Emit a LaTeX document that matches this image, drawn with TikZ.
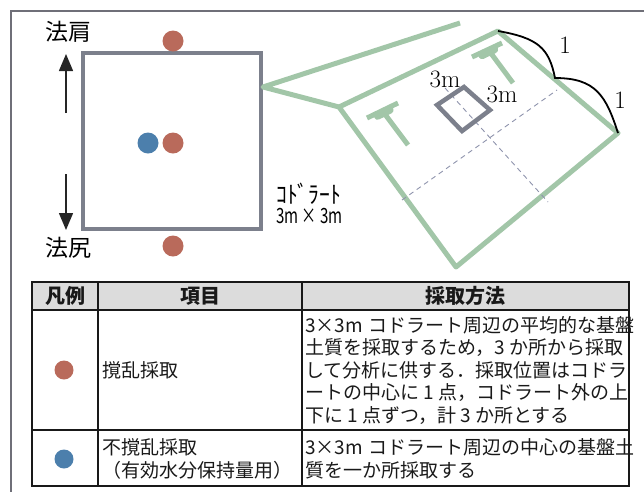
\documentclass[tikz,border=0pt]{standalone}
\usepackage{fontspec}
\newfontfamily\jp{Noto Sans CJK JP}
\newfontfamily\jpnarrow{Noto Sans CJK JP}[FakeStretch=0.72]
\newfontfamily\jpkana{Noto Sans CJK JP}[FakeStretch=0.9]
\usetikzlibrary{positioning,arrows.meta}

\definecolor{slopegreen}{HTML}{A2C6A8}
\definecolor{quadgray}{HTML}{7C808C}
\definecolor{framegray}{HTML}{6F6F78}
\definecolor{guidegray}{HTML}{8E93AC}
\definecolor{sampred}{HTML}{B96A5B}
\definecolor{sampblue}{HTML}{4C7FAC}
\definecolor{headgray}{HTML}{DCDCDC}

\begin{document}
\begin{tikzpicture}[x=1pt,y=-1pt,
	slope/.style={draw=slopegreen,line width=5pt,line join=round},
	quadrat/.style={draw=quadgray,line width=4.5pt},
	guide/.style={draw=guidegray,line width=0.9pt,dash pattern=on 5pt off 4pt},
	sample/.style={shape=circle,inner sep=0pt,minimum size=21pt},
	bigarrow/.style={draw=black!85,line width=1.5pt,-{Triangle[length=17pt,width=14pt]}},
	cell/.style={draw=black!90,line width=1.5pt}]
	\useasboundingbox (0,0) rectangle (644,491);

	% frame
	\draw[framegray,line width=2pt] (11,496) -- (11,11) -- (650,11);

	% Quadrat seen from above
	\draw[quadrat] (83,53) rectangle (261,229);
	\node [sample,fill=sampred] (upper) at (173,41) {};
	\node [sample,fill=sampblue] (centreU) at (148,143) {};
	\node [sample,fill=sampred] (centreD) at (173,143) {};
	\node [sample,fill=sampred] (lower) at (173,246) {};

	\node [font=\jp\fontsize{23}{26}\selectfont] (shoulder) at (68,32) {法肩};
	\node [font=\jp\fontsize{23}{26}\selectfont] (toe) at (68,248) {法尻};
	\coordinate (up0) at (66,113);
	\coordinate (up1) at (66,54);
	\coordinate (dn0) at (66,174);
	\coordinate (dn1) at (66,230);
	\draw[bigarrow] (up0) -- (up1);
	\draw[bigarrow] (dn0) -- (dn1);

	\node [font=\jpkana\fontsize{24}{24}\selectfont, anchor=base west, inner sep=0pt] (qname) at (276,203) {ｺﾄﾞﾗｰﾄ};
	\node [font=\jpnarrow\fontsize{21}{21}\selectfont, anchor=base west, inner sep=0pt] (qsize) at (276,223) {3m × 3m};

	% Slope
	\coordinate (hinge) at (263,87);
	\coordinate (far) at (460,23);
	\coordinate (shl) at (339,107);
	\coordinate (crest) at (498,31);
	\coordinate (rt) at (618,133);
	\coordinate (btm) at (456,267);
	\draw[slope] (far) -- (hinge) -- (shl) -- (btm) -- (rt) -- (crest) -- (shl);

	% trees on the slope
	\draw[slope] (367,118) -- (398,103);
	\draw[slopegreen,line width=7pt,line cap=round] (377.5,116.3) -- (390.1,110.1);
	\draw[slope] (384,113) -- (408,145);
	\draw[slope] (472,57) -- (502,43);
	\draw[slopegreen,line width=7pt,line cap=round] (482,55.7) -- (494.6,49.7);
	\draw[slope] (490,52) -- (513,83);

	% centre lines of the slope face
	\draw[guide] (402,200) -- (557,90);
	\draw[guide] (445,88) -- (548,202);

	% quadrat on the slope
	\draw[quadrat] (437,105) -- (464,87) -- (490,110) -- (462,131) -- cycle;
	\node [font=\fontsize{25}{25}\selectfont] (qw) at (445,79) {3m};
	\node [font=\fontsize{25}{25}\selectfont] (qh) at (502,94) {3m};

	% gradient 1:1
	\draw[black,line width=1.8pt] (crest) .. controls (538,38) and (549,48) .. (555,78) .. controls (596,78) and (606,96) .. (rt);
	\node [font=\fontsize{25}{25}\selectfont] (r1) at (565,45) {1};
	\node [font=\fontsize{25}{25}\selectfont] (r2) at (620,100) {1};

	% Table
	\fill[headgray] (32,282) rectangle (629,310);
	\draw[cell] (32,282) rectangle (629,486);
	\draw[cell] (32,310) -- (629,310);
	\draw[cell] (32,430) -- (629,430);
	\draw[cell] (98,282) -- (98,486);
	\draw[cell] (302,282) -- (302,486);

	\begin{scope}[every node/.append style={font=\jp\fontsize{19}{22.5}\selectfont,text=black!90}]
		\node [font=\jp\bfseries\fontsize{20}{22}\selectfont] (hLegend) at (65,296) {凡例};
		\node [font=\jp\bfseries\fontsize{20}{22}\selectfont] (hItem) at (200,296) {項目};
		\node [font=\jp\bfseries\fontsize{20}{22}\selectfont] (hMethod) at (465.5,296) {採取方法};

		\node [sample,minimum size=19pt,fill=sampred] (keyRed) at (64,370) {};
		\node [anchor=west,inner sep=0pt] (itemA) at (102,370) {撹乱採取};
		\node [anchor=west,inner sep=0pt,align=left] (methodA) at (305,370) {3×3m\hspace{0.3em}コドラート周辺の平均的な基盤\\土質を採取するため，3 か所から採取\\して分析に供する．採取位置はコドラ\\ートの中心に 1 点，コドラート外の上\\下に 1 点ずつ，計 3 か所とする};

		\node [sample,minimum size=19pt,fill=sampblue] (keyBlue) at (64,459) {};
		\node [anchor=west,inner sep=0pt,align=left] (itemB) at (102,459) {不撹乱採取\\（有効水分保持量用）};
		\node [anchor=west,inner sep=0pt,align=left] (methodB) at (305,459) {3×3m\hspace{0.3em}コドラート周辺の中心の基盤土\\質を一か所採取する};
	\end{scope}
\end{tikzpicture}
\end{document}
